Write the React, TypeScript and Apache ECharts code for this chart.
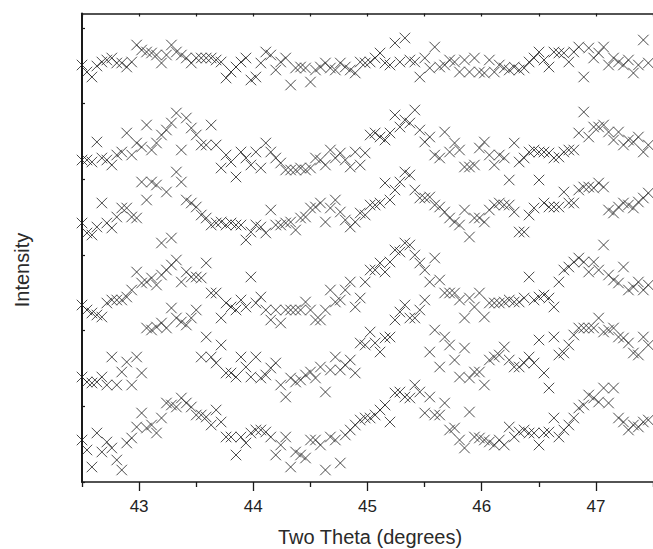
import React, { useEffect, useRef } from "react";
import * as echarts from "echarts";

// 2-theta sampling grid (degrees)
const THETA_START = 42.5;
const THETA_STEP = 0.0435;

const X_MIN = 42.5;
const X_MAX = 47.5;
const X_MAJOR_TICKS = [43, 44, 45, 46, 47];
const X_MINOR_TICKS = [42.5, 43.5, 44.5, 45.5, 46.5, 47.5];
const Y_MIN = 0;
const Y_MAX = 468.5;
const Y_TICKS = [0, 75.67, 151.33, 227, 302.67, 378.33, 454];

// Intensity (arbitrary units, offset traces), top trace first
const TRACE_1 = [
  417, 410, 405, 416, 420, 422, 424, 419, 419, 415,
  420, 437, 432, 430, 429, 427, 419, 427, 437, 430,
  427, 424, 419, 424, 424, 424, 424, 422, 420, 404,
  410, 415, 420, 424, 402, 405, 419, 430, 427, 412,
  420, 424, 397, 414, 415, 414, 400, 412, 415, 419,
  414, 412, 419, 415, 412, 409, 420, 419, 420, 424,
  429, 419, 417, 439, 420, 444, 422, 420, 405, 424,
  414, 435, 415, 417, 422, 420, 410, 422, 410, 424,
  410, 409, 422, 410, 417, 414, 412, 415, 412, 414,
  420, 424, 430, 422, 415, 430, 429, 429, 420, 430,
  435, 405, 434, 424, 429, 435, 417, 424, 420, 417,
  422, 409, 417, 442, 419, 422,
];
const TRACE_2 = [
  322, 322, 320, 340, 324, 322, 317, 327, 330, 349,
  327, 339, 335, 357, 332, 339, 347, 352, 359, 369,
  332, 364, 354, 347, 337, 337, 357, 337, 314, 327,
  320, 305, 330, 324, 317, 330, 314, 339, 330, 324,
  319, 312, 312, 312, 314, 312, 314, 324, 322, 317,
  332, 324, 329, 322, 315, 330, 317, 329, 347, 349,
  345, 342, 349, 367, 355, 362, 359, 372, 352, 340,
  345, 327, 324, 350, 330, 339, 332, 315, 315, 317,
  334, 340, 327, 317, 327, 324, 302, 339, 320, 324,
  330, 332, 330, 330, 329, 324, 325, 330, 332, 332,
  349, 370, 345, 355, 355, 357, 350, 342, 350, 337,
  342, 340, 345, 330, 337, 334,
];
const TRACE_3 = [
  259, 249, 247, 255, 279, 259, 254, 265, 274, 274,
  265, 264, 300, 282, 300, 297, 239, 290, 244, 310,
  300, 282, 279, 275, 267, 264, 257, 259, 260, 257,
  259, 257, 257, 242, 250, 257, 255, 249, 272, 257,
  257, 259, 260, 252, 264, 265, 274, 275, 279, 260,
  274, 282, 270, 262, 255, 260, 269, 267, 277, 277,
  279, 299, 282, 292, 300, 310, 307, 292, 284, 284,
  285, 277, 275, 270, 264, 260, 257, 272, 245, 264,
  264, 260, 272, 277, 279, 277, 277, 270, 250, 250,
  267, 274, 302, 279, 275, 275, 275, 290, 279, 279,
  292, 295, 295, 294, 299, 295, 272, 269, 275, 279,
  277, 274, 280, 284, 289, 282,
];
const TRACE_4 = [
  177, 172, 169, 167, 165, 179, 182, 182, 182, 185,
  192, 210, 199, 200, 204, 197, 207, 212, 217, 222,
  200, 210, 205, 205, 204, 219, 189, 189, 164, 179,
  175, 172, 182, 175, 205, 179, 185, 172, 162, 172,
  159, 172, 172, 172, 172, 180, 172, 162, 162, 172,
  192, 180, 182, 192, 200, 175, 184, 200, 212, 212,
  219, 210, 220, 232, 230, 239, 237, 227, 219, 212,
  200, 224, 202, 189, 189, 189, 182, 164, 184, 175,
  189, 165, 179, 179, 179, 180, 182, 180, 180, 184,
  205, 182, 185, 187, 184, 175, 200, 212, 215, 220,
  224, 220, 210, 220, 212, 237, 207, 202, 199, 215,
  192, 195, 200, 192, 197, 194,
];
const TRACE_5 = [
  105, 100, 99, 100, 105, 97, 125, 97, 110, 120,
  97, 125, 109, 154, 152, 155, 159, 154, 174, 164,
  160, 157, 164, 172, 125, 145, 125, 119, 137, 109,
  109, 105, 125, 115, 105, 125, 104, 107, 114, 119,
  97, 85, 104, 100, 102, 107, 110, 104, 115, 90,
  112, 125, 112, 117, 122, 109, 139, 137, 150, 139,
  130, 144, 145, 162, 170, 177, 164, 164, 172, 182,
  130, 152, 115, 145, 137, 122, 105, 134, 104, 110,
  110, 97, 122, 125, 127, 135, 122, 115, 115, 119,
  125, 119, 142, 109, 94, 145, 127, 129, 137, 147,
  154, 154, 154, 154, 164, 150, 152, 154, 145, 144,
  139, 129, 127, 145, 137, 142,
];
const TRACE_6 = [
  42, 32, 15, 49, 30, 40, 34, 22, 12, 39,
  44, 55, 69, 54, 57, 49, 64, 79, 77, 75,
  84, 79, 75, 67, 67, 65, 57, 72, 60, 45,
  45, 27, 45, 39, 49, 52, 52, 50, 45, 27,
  37, 45, 15, 30, 27, 24, 42, 42, 37, 12,
  45, 42, 19, 47, 52, 57, 62, 64, 64, 67,
  72, 77, 60, 89, 90, 85, 84, 97, 90, 69,
  85, 67, 67, 79, 52, 54, 42, 34, 70, 45,
  44, 42, 40, 37, 42, 37, 55, 45, 50, 52,
  49, 49, 37, 49, 50, 64, 45, 52, 57, 64,
  74, 77, 87, 84, 80, 94, 79, 94, 64, 60,
  52, 57, 55, 60, 62, 57,
];

const TRACES = [TRACE_1, TRACE_2, TRACE_3, TRACE_4, TRACE_5, TRACE_6];

const X_TITLE = "Two Theta (degrees)";
const Y_TITLE = "Intensity";

const FONT = "'Liberation Sans', Arial, Helvetica, sans-serif";
const INK = "#1a1a1a";

export default function App() {
  const ref = useRef<HTMLDivElement>(null);

  useEffect(() => {
    if (!ref.current) return;
    const chart = echarts.init(ref.current, null, { renderer: "svg" });

    const series = TRACES.map((trace, k) => ({
      type: "scatter",
      name: "trace" + (k + 1),
      xAxisIndex: 0,
      yAxisIndex: 0,
      symbol: "path://M0,0L10,10M10,0L0,10",
      symbolSize: 10.5,
      itemStyle: { color: "transparent", borderColor: "#1e1e1e", borderWidth: 1 },
      emphasis: { disabled: true },
      data: trace.map((v, i) => [THETA_START + i * THETA_STEP, v]),
    }));

    chart.setOption({
      animation: false,
      backgroundColor: "#fff",
      grid: { left: 82, top: 13.5, right: -4, bottom: 67, containLabel: false },
      xAxis: [
        {
          type: "value",
          position: "bottom",
          min: X_MIN,
          max: X_MAX,
          axisLine: { show: true, onZero: false, lineStyle: { color: INK, width: 1.6 } },
          axisTick: {
            show: true,
            inside: false,
            length: 9,
            customValues: X_MAJOR_TICKS,
            lineStyle: { color: INK, width: 1.3 },
          },
          axisLabel: {
            show: true,
            customValues: X_MAJOR_TICKS,
            fontSize: 17,
            fontFamily: FONT,
            color: "#222",
            margin: 16,
          },
          splitLine: { show: false },
        },
        {
          type: "value",
          position: "bottom",
          min: X_MIN,
          max: X_MAX,
          axisLine: { show: false },
          axisTick: {
            show: true,
            inside: false,
            length: 5,
            customValues: X_MINOR_TICKS,
            lineStyle: { color: INK, width: 1.3 },
          },
          axisLabel: { show: false },
          splitLine: { show: false },
        },
        {
          type: "value",
          position: "top",
          min: X_MIN,
          max: X_MAX,
          axisLine: { show: true, onZero: false, lineStyle: { color: INK, width: 1.5 } },
          axisTick: {
            show: true,
            inside: true,
            length: 3,
            customValues: [...X_MAJOR_TICKS, ...X_MINOR_TICKS],
            lineStyle: { color: INK, width: 1.2 },
          },
          axisLabel: { show: false },
          splitLine: { show: false },
        },
      ],
      yAxis: [
        {
          type: "value",
          min: Y_MIN,
          max: Y_MAX,
          axisLine: { show: true, onZero: false, lineStyle: { color: INK, width: 2 } },
          axisTick: {
            show: true,
            inside: true,
            length: 3,
            customValues: Y_TICKS,
            lineStyle: { color: INK, width: 1.2 },
          },
          axisLabel: { show: false },
          splitLine: { show: false },
        },
      ],
      graphic: [
        {
          type: "text",
          x: 370,
          y: 537,
          style: {
            text: X_TITLE,
            fontSize: 20,
            fontFamily: FONT,
            fill: "#2a2a2a",
            align: "center",
            verticalAlign: "middle",
          },
        },
        {
          type: "text",
          x: 22,
          y: 270,
          rotation: Math.PI / 2,
          style: {
            text: Y_TITLE,
            fontSize: 20,
            fontFamily: FONT,
            fill: "#2a2a2a",
            align: "center",
            verticalAlign: "middle",
          },
        },
      ],
      series,
    });

    return () => chart.dispose();
  }, []);

  return (
    <div
      ref={ref}
      style={{ position: "fixed", left: 0, top: 0, width: 653, height: 549, background: "#fff" }}
    />
  );
}
